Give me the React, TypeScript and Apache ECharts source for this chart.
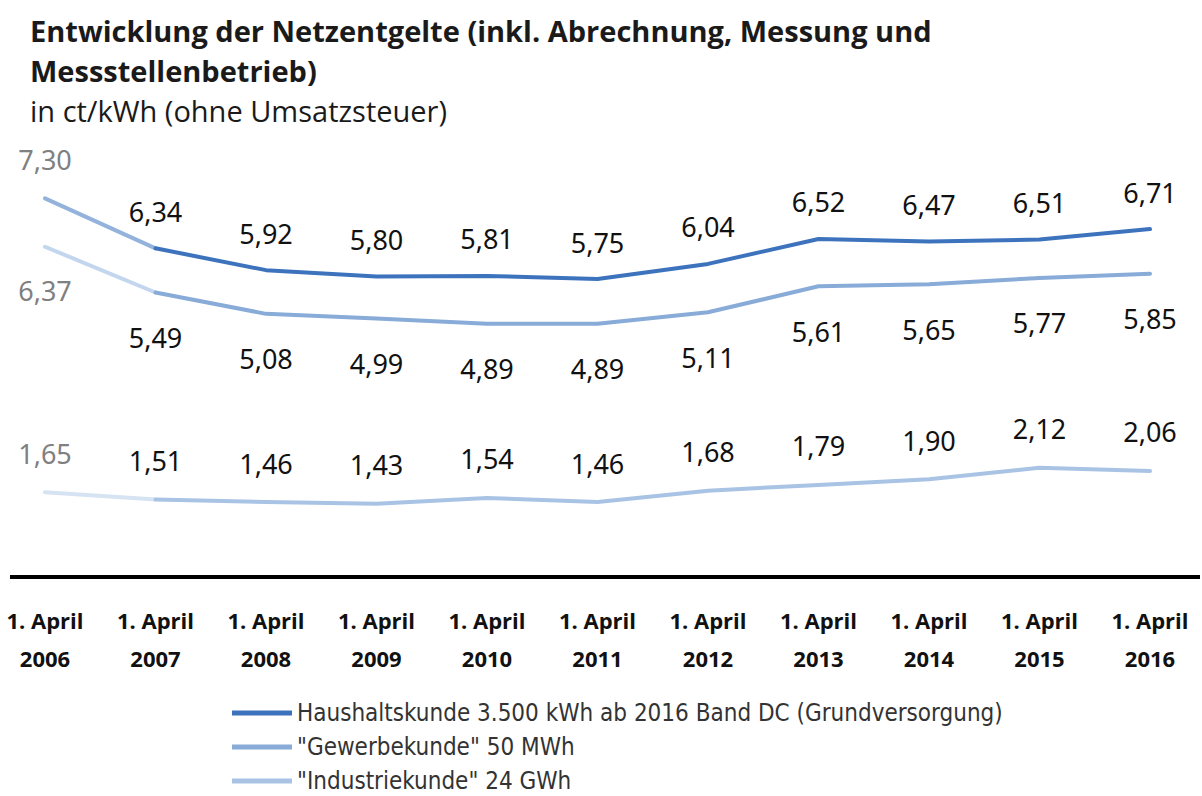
import React, { useEffect, useRef } from "react";
import * as echarts from "echarts";

const years = ["2006", "2007", "2008", "2009", "2010", "2011", "2012", "2013", "2014", "2015", "2016"];
const tickPrefix = "1. April";
const haushalt = [7.30, 6.34, 5.92, 5.80, 5.81, 5.75, 6.04, 6.52, 6.47, 6.51, 6.71];
const gewerbe = [6.37, 5.49, 5.08, 4.99, 4.89, 4.89, 5.11, 5.61, 5.65, 5.77, 5.85];
const industrie = [1.65, 1.51, 1.46, 1.43, 1.54, 1.46, 1.68, 1.79, 1.90, 2.12, 2.06];
const seriesNames = [
  "Haushaltskunde 3.500 kWh ab 2016 Band DC (Grundversorgung)",
  '"Gewerbekunde" 50 MWh',
  '"Industriekunde" 24 GWh',
];

const fmt = (v: number) => v.toFixed(2).replace(".", ",");
const NUM_FONT = "'Noto Sans', 'Open Sans', sans-serif";

export default function App() {
  const ref = useRef<HTMLDivElement>(null);
  useEffect(() => {
    if (!ref.current) return;
    const chart = echarts.init(ref.current, undefined, { renderer: "svg" });

    const defs = [
      { name: seriesNames[0], data: haushalt, color: "#3d73bd", fade: "#93b3dc", width: 4, pos: "top", dist: 22, fdist: 24 },
      { name: seriesNames[1], data: gewerbe, color: "#88abd8", fade: "#c3d6ee", width: 4, pos: "bottom", dist: 30, fdist: 29 },
      { name: seriesNames[2], data: industrie, color: "#a9c3e5", fade: "#d6e3f3", width: 4, pos: "top", dist: 24, fdist: 24 },
    ];

    const series: any[] = [];
    defs.forEach((d) => {
      series.push({
        type: "line",
        name: d.name + "_fade",
        data: d.data.map((v, i) =>
          i === 0
            ? {
                value: v,
                label: {
                  show: true,
                  position: d.pos,
                  distance: d.fdist,
                  formatter: (p: any) => fmt(p.value),
                  color: "#808080",
                  fontSize: 27,
                  lineHeight: 28,
                  fontFamily: NUM_FONT,
                },
              }
            : i === 1
            ? v
            : null
        ),
        showSymbol: true,
        symbol: "circle",
        symbolSize: 2,
        lineStyle: { color: d.fade, width: d.width, cap: "round", join: "round" },
        itemStyle: { color: d.fade },
        label: { show: false },
        silent: true,
        z: 1,
      });
      series.push({
        type: "line",
        name: d.name,
        data: d.data.map((v, i) => (i === 0 ? null : v)),
        showSymbol: true,
        symbol: "circle",
        symbolSize: 2,
        lineStyle: { color: d.color, width: d.width, cap: "round", join: "round" },
        itemStyle: { color: d.color },
        label: {
          show: true,
          position: d.pos,
          distance: d.dist,
          formatter: (p: any) => fmt(p.value),
          color: "#111111",
          fontSize: 27,
          lineHeight: 28,
          fontFamily: NUM_FONT,
        },
        z: 2,
      });
    });

    chart.setOption({
      animation: false,
      backgroundColor: "#ffffff",
      title: {
        text: "Entwicklung der Netzentgelte (inkl. Abrechnung, Messung und\nMessstellenbetrieb)",
        subtext: "in ct/kWh (ohne Umsatzsteuer)",
        left: 30,
        top: 10,
        padding: 0,
        itemGap: 2,
        textStyle: {
          fontSize: 29,
          fontWeight: "bold",
          lineHeight: 40,
          color: "#1a1a1a",
          fontFamily: "'Open Sans', 'Noto Sans', sans-serif",
        },
        subtextStyle: {
          fontSize: 29,
          lineHeight: 36,
          color: "#1a1a1a",
          fontFamily: "'Open Sans', 'Noto Sans', sans-serif",
        },
      },
      legend: {
        orient: "vertical",
        left: 232,
        top: 701,
        padding: 0,
        itemWidth: 60,
        itemHeight: 5,
        itemGap: 10,
        icon: "rect",
        data: seriesNames,
        selectedMode: false,
        textStyle: {
          fontSize: 24,
          lineHeight: 24,
          color: "#333333",
          fontFamily: "'DejaVu Sans Condensed', 'Liberation Sans Narrow', sans-serif",
        },
      },
      grid: { left: 45, right: 52, top: 162, bottom: 218 },
      xAxis: {
        type: "category",
        data: years,
        boundaryGap: false,
        axisLine: { show: false },
        axisTick: { show: false },
        splitLine: { show: false },
        axisLabel: {
          interval: 0,
          margin: 23,
          formatter: (v: string) => tickPrefix + "\n" + v,
          fontSize: 22,
          fontWeight: "bold",
          lineHeight: 38,
          color: "#111111",
          fontFamily: "'Open Sans', 'Noto Sans', sans-serif",
        },
      },
      yAxis: {
        type: "value",
        min: 0,
        max: 8,
        interval: 1,
        show: false,
        splitLine: { show: false },
      },
      graphic: [
        {
          type: "line",
          shape: { x1: 10, y1: 577, x2: 1200, y2: 577 },
          style: { stroke: "#000000", lineWidth: 4 },
          z: 10,
        },
      ],
      series,
    });

    return () => chart.dispose();
  }, []);

  return (
    <div
      ref={ref}
      style={{ position: "absolute", left: 0, top: 0, width: 1202, height: 796 }}
    />
  );
}
